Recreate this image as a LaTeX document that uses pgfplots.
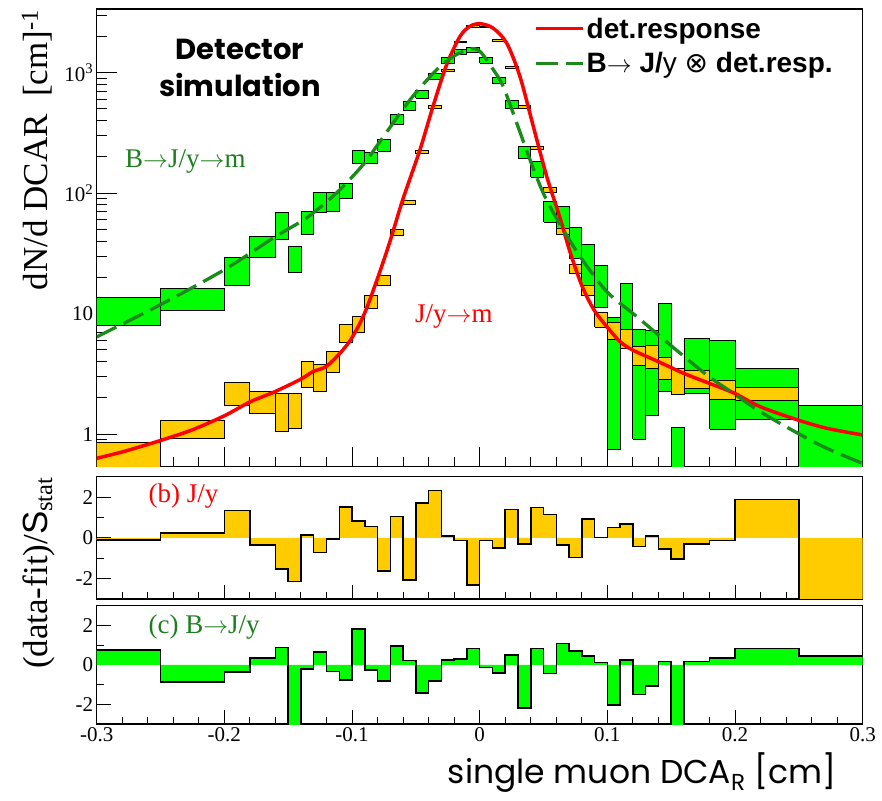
\documentclass[border=0pt]{standalone}
\usepackage{fontspec}
\setmainfont{Liberation Serif}
\setsansfont{Liberation Sans}
\newfontfamily\gothic{Poppins}
\newfontfamily\djv{DejaVu Sans}
\usepackage{pgfplots}
\pgfplotsset{compat=1.18}
\definecolor{ofill}{HTML}{FFCC00}
\definecolor{gfill}{HTML}{00FF00}
\definecolor{dgreen}{HTML}{1A8A1A}
\definecolor{tgreen}{HTML}{1E7F1E}
\newcommand{\obox}[4]{\addplot[forget plot, fill=ofill, draw=black, line width=0.9pt] coordinates {(#1,#3) (#2,#3) (#2,#4) (#1,#4) (#1,#3)};}
\newcommand{\gbox}[4]{\addplot[forget plot, fill=gfill, draw=black, line width=0.9pt] coordinates {(#1,#3) (#2,#3) (#2,#4) (#1,#4) (#1,#3)};}
\pgfplotsset{
  common/.style={scale only axis, anchor=south west, xmin=-0.3, xmax=0.3, width=766pt,
    tick align=inside, tick pos=left,
    axis line style={line width=1.2pt},
    major tick length=14pt, minor tick length=7pt,
    xtick={-0.3,-0.2,-0.1,0,0.1,0.2,0.3}, minor x tick num=4,
    tick style={line width=1pt, black},
    tick label style={font=\fontsize{21}{21}\selectfont}},
}
\begin{document}
\begin{tikzpicture}
\path[use as bounding box] (0pt,0pt) rectangle (882pt,800pt);
% ---------------- top panel
\begin{axis}[common, at={(96.7pt,333.3pt)}, height=457.7pt,
  major tick length=20pt, minor tick length=10pt,
  ymode=log, ymin=0.538, ymax=3365,
  ytick={1,10,100,1000}, yticklabels={1,10,10\textsuperscript{2},10\textsuperscript{3}},
  minor ytick={0.6,0.7,0.8,0.9,2,3,4,5,6,7,8,9,20,30,40,50,60,70,80,90,200,300,400,500,600,700,800,900,2000,3000},
  xticklabels={},
  legend style={at={(axis description cs:0.567,0.99)}, anchor=north west, draw=none, fill=none,
    font=\sffamily\bfseries\fontsize{28}{30}\selectfont, row sep=9pt},
  legend cell align=left,
  legend image code/.code={\draw[#1] (0pt,0pt) -- (47pt,0pt);},
]
% B -> J/psi boxes
\gbox{-0.30}{-0.25}{7.92}{13.6}
\gbox{-0.25}{-0.20}{10.69}{16.15}
\gbox{-0.20}{-0.18}{17.3}{29.0}
\gbox{-0.18}{-0.16}{29.0}{43.4}
\gbox{-0.16}{-0.15}{40.97}{68.6}
\gbox{-0.15}{-0.14}{22.1}{36.0}
\gbox{-0.14}{-0.13}{45.1}{69.9}
\gbox{-0.13}{-0.12}{68.6}{100.6}
\gbox{-0.12}{-0.11}{69.9}{100.6}
\gbox{-0.11}{-0.10}{89.7}{119.4}
\gbox{-0.10}{-0.09}{175.0}{224.4}
\gbox{-0.09}{-0.08}{175.0}{217.2}
\gbox{-0.08}{-0.07}{221.4}{276.9}
\gbox{-0.07}{-0.06}{373.8}{446.6}
\gbox{-0.06}{-0.05}{484.8}{572.6}
\gbox{-0.05}{-0.04}{614}{706.3}
\gbox{-0.04}{-0.03}{883}{990.6}
\gbox{-0.03}{-0.02}{1199}{1345}
\gbox{-0.02}{-0.01}{1424}{1567}
\gbox{-0.01}{0.00}{1468}{1616}
\gbox{0.00}{0.01}{1199}{1335}
\gbox{0.01}{0.02}{818}{917.8}
\gbox{0.02}{0.03}{500.9}{583.4}
\gbox{0.03}{0.04}{195.2}{243.7}
\gbox{0.04}{0.05}{135.8}{182.9}
\gbox{0.05}{0.06}{57.5}{85.2}
\gbox{0.06}{0.07}{47.7}{77.4}
\gbox{0.07}{0.08}{28.9}{51.8}
\gbox{0.08}{0.09}{17.3}{37.7}
\gbox{0.09}{0.10}{11.2}{25.1}
\gbox{0.10}{0.11}{0.741}{9.35}
\gbox{0.11}{0.12}{5.4}{17.7}
\gbox{0.12}{0.13}{0.909}{7.44}
\gbox{0.13}{0.14}{1.427}{7.24}
\gbox{0.14}{0.15}{2.26}{12.2}
\gbox{0.15}{0.16}{0.3}{1.134}
\gbox{0.16}{0.18}{2.19}{6.26}
\gbox{0.18}{0.20}{1.10}{5.98}
\gbox{0.20}{0.25}{1.314}{3.53}
\gbox{0.25}{0.30}{0.3}{1.727}
% J/psi boxes
\obox{-0.30}{-0.25}{0.45}{0.847}
\obox{-0.25}{-0.20}{0.914}{1.297}
\obox{-0.20}{-0.18}{1.727}{2.666}
\obox{-0.18}{-0.16}{1.474}{2.257}
\obox{-0.16}{-0.15}{1.045}{2.160}
\obox{-0.15}{-0.14}{1.107}{2.160}
\obox{-0.14}{-0.13}{2.436}{4.005}
\obox{-0.13}{-0.12}{2.257}{3.758}
\obox{-0.12}{-0.11}{3.245}{4.849}
\obox{-0.11}{-0.10}{5.724}{8.07}
\obox{-0.10}{-0.09}{6.97}{9.46}
\obox{-0.09}{-0.08}{11.1}{14.13}
\obox{-0.08}{-0.07}{17.1}{20.7}
\obox{-0.07}{-0.06}{44.2}{50.3}
\obox{-0.06}{-0.05}{80.0}{86.8}
\obox{-0.05}{-0.04}{213}{226}
\obox{-0.04}{-0.03}{501}{530}
\obox{-0.03}{-0.02}{1021}{1055}
\obox{-0.02}{-0.01}{1777}{1811}
\obox{-0.01}{0.00}{2386}{2445}
\obox{0.00}{0.01}{2370}{2430}
\obox{0.01}{0.02}{1825}{1871}
\obox{0.02}{0.03}{1090}{1117}
\obox{0.03}{0.04}{507}{530}
\obox{0.04}{0.05}{231.8}{243.7}
\obox{0.05}{0.06}{101.9}{111.3}
\obox{0.06}{0.07}{45.1}{51.2}
\obox{0.07}{0.08}{21.7}{25.4}
\obox{0.08}{0.09}{14.06}{17.3}
\obox{0.09}{0.10}{7.73}{10.29}
\obox{0.10}{0.11}{6.14}{8.44}
\obox{0.11}{0.12}{5.17}{7.34}
\obox{0.12}{0.13}{3.69}{5.33}
\obox{0.13}{0.14}{3.53}{5.44}
\obox{0.14}{0.15}{2.86}{4.32}
\obox{0.15}{0.16}{2.15}{3.53}
\obox{0.16}{0.18}{2.41}{3.37}
\obox{0.18}{0.20}{1.93}{2.82}
\obox{0.20}{0.25}{1.90}{2.455}
% curves
\addplot[red, line width=3.5pt, smooth] coordinates {
(-0.300,0.632) (-0.279,0.718) (-0.2504,0.885) (-0.2253,1.086) (-0.2002,1.419) (-0.1799,1.854)
(-0.1603,2.257) (-0.1402,2.86) (-0.1306,3.31) (-0.1204,3.64) (-0.1094,4.70) (-0.1003,6.26)
(-0.0904,9.96) (-0.0802,19.4) (-0.0703,39.7) (-0.0603,88.0) (-0.0468,228.7) (-0.0366,523)
(-0.0259,1161) (-0.0154,1995) (-0.0077,2415) (0.0002,2541) (0.0103,2341) (0.0211,1757)
(0.0315,928) (0.0420,357) (0.0525,137.3) (0.0629,62.4) (0.0707,32.6) (0.0801,17.0)
(0.0895,10.75) (0.0995,7.82) (0.1099,5.87) (0.1195,5.01) (0.1399,4.00) (0.1595,3.21)
(0.1796,2.65) (0.1994,2.19) (0.2196,1.694) (0.2491,1.314) (0.2718,1.121) (0.2997,0.987)};
\addlegendentry{det.response}
\addplot[dgreen, line width=3.3pt, smooth, dash pattern=on 22pt off 8pt] coordinates {
(-0.300,6.42) (-0.2504,11.83) (-0.2002,23.1) (-0.1603,43.4) (-0.1355,62.4) (-0.1120,100.6)
(-0.0914,171.8) (-0.0781,268) (-0.0546,594) (-0.0337,1055) (-0.0207,1360) (-0.0077,1567)
(0.0002,1496) (0.0107,1055) (0.0184,767) (0.0290,381) (0.0394,188.9) (0.0498,100)
(0.0613,58.9) (0.0786,29.8) (0.0995,15.26) (0.1230,9.46) (0.1492,5.51) (0.1778,3.105)
(0.1986,2.19) (0.2196,1.54) (0.2491,1.019) (0.2718,0.765) (0.2997,0.574)};
\addlegendentry{B$\rightarrow$ J/{\mdseries y} {\djv\mdseries ⊗} det.resp.}
\end{axis}
% ---------------- panel (b)
\begin{axis}[common, at={(96.7pt,201pt)}, height=122.3pt,
  ymin=-3, ymax=3, ytick={-2,0,2}, yticklabels={-2,0,2}, minor ytick={-1,1},
  xticklabels={}]
\addplot[const plot, fill=ofill, draw=none] coordinates {(-0.3,0)
(-0.30,-0.1) (-0.25,0.24) (-0.20,1.33) (-0.18,-0.35) (-0.16,-1.52) (-0.15,-2.13) (-0.14,0.14)
(-0.13,-0.72) (-0.12,-0.05) (-0.11,1.52) (-0.10,0.83) (-0.09,0.56) (-0.08,-1.62) (-0.07,1.04)
(-0.06,-2.08) (-0.05,1.71) (-0.04,2.32) (-0.03,0.08) (-0.02,-0.13) (-0.01,-2.32) (0.00,-0.13)
(0.01,-0.51) (0.02,1.39) (0.03,-0.30) (0.04,1.49) (0.05,1.15) (0.06,-0.34) (0.07,-0.96)
(0.08,0.93) (0.09,0.02) (0.10,0.50) (0.11,0.67) (0.12,-0.42) (0.13,0.08) (0.14,-0.54)
(0.15,-1.04) (0.16,-0.29) (0.18,-0.13) (0.20,1.87) (0.25,-3.5) (0.30,-3.5) (0.3,0)};
\addplot[const plot, draw=black, line width=1.5pt] coordinates {
(-0.30,-0.1) (-0.25,0.24) (-0.20,1.33) (-0.18,-0.35) (-0.16,-1.52) (-0.15,-2.13) (-0.14,0.14)
(-0.13,-0.72) (-0.12,-0.05) (-0.11,1.52) (-0.10,0.83) (-0.09,0.56) (-0.08,-1.62) (-0.07,1.04)
(-0.06,-2.08) (-0.05,1.71) (-0.04,2.32) (-0.03,0.08) (-0.02,-0.13) (-0.01,-2.32) (0.00,-0.13)
(0.01,-0.51) (0.02,1.39) (0.03,-0.30) (0.04,1.49) (0.05,1.15) (0.06,-0.34) (0.07,-0.96)
(0.08,0.93) (0.09,0.02) (0.10,0.50) (0.11,0.67) (0.12,-0.42) (0.13,0.08) (0.14,-0.54)
(0.15,-1.04) (0.16,-0.29) (0.18,-0.13) (0.20,1.87) (0.25,-3.5) (0.30,-3.5)};
\end{axis}
% ---------------- panel (c)
\begin{axis}[common, at={(96.7pt,76pt)}, height=118.3pt,
  ymin=-3, ymax=3, ytick={-2,0,2}, yticklabels={-2,0,2}, minor ytick={-1,1},
  xticklabels={-0.3,-0.2,-0.1,0,0.1,0.2,0.3}]
\addplot[const plot, fill=gfill, draw=none] coordinates {(-0.3,0)
(-0.30,0.76) (-0.25,-0.86) (-0.20,-0.35) (-0.18,0.34) (-0.16,0.87) (-0.15,-3.5) (-0.14,-0.20)
(-0.13,0.66) (-0.12,-0.34) (-0.11,-0.76) (-0.10,1.82) (-0.09,-0.25) (-0.08,-0.82) (-0.07,0.96)
(-0.06,0.22) (-0.05,-1.43) (-0.04,-0.82) (-0.03,0.25) (-0.02,0.29) (-0.01,0.82) (0.00,-0.13)
(0.01,-0.42) (0.02,0.49) (0.03,-2.2) (0.04,0.82) (0.05,-0.45) (0.06,1.08) (0.07,0.71)
(0.08,0.44) (0.09,0.12) (0.10,-2.03) (0.11,0.24) (0.12,-1.51) (0.13,-1.06) (0.14,0.18)
(0.15,-3.5) (0.16,0.18) (0.18,0.35) (0.20,0.82) (0.25,0.45) (0.30,0.45) (0.3,0)};
\addplot[const plot, draw=black, line width=1.5pt] coordinates {
(-0.30,0.76) (-0.25,-0.86) (-0.20,-0.35) (-0.18,0.34) (-0.16,0.87) (-0.15,-3.5) (-0.14,-0.20)
(-0.13,0.66) (-0.12,-0.34) (-0.11,-0.76) (-0.10,1.82) (-0.09,-0.25) (-0.08,-0.82) (-0.07,0.96)
(-0.06,0.22) (-0.05,-1.43) (-0.04,-0.82) (-0.03,0.25) (-0.02,0.29) (-0.01,0.82) (0.00,-0.13)
(0.01,-0.42) (0.02,0.49) (0.03,-2.2) (0.04,0.82) (0.05,-0.45) (0.06,1.08) (0.07,0.71)
(0.08,0.44) (0.09,0.12) (0.10,-2.03) (0.11,0.24) (0.12,-1.51) (0.13,-1.06) (0.14,0.18)
(0.15,-3.5) (0.16,0.18) (0.18,0.35) (0.20,0.82) (0.25,0.45) (0.30,0.45)};
\end{axis}
% ---------------- texts
\node[anchor=base, font=\gothic\bfseries\fontsize{29}{29}\selectfont] at (240pt,740pt) {Detector};
\node[anchor=base, font=\gothic\bfseries\fontsize{29}{29}\selectfont] at (240pt,703pt) {simulation};
\node[anchor=base west, text=tgreen, font=\fontsize{27}{27}\selectfont] at (121.7pt,632pt) {B$\rightarrow$J/y$\rightarrow$m};
\node[anchor=base west, text=red, font=\fontsize{27}{27}\selectfont] at (411.7pt,477pt) {J/y$\rightarrow$m};
\node[anchor=base west, text=red, font=\fontsize{27}{27}\selectfont] at (145pt,297pt) {(b) J/y};
\node[anchor=base west, text=tgreen, font=\fontsize{27}{27}\selectfont] at (145pt,167pt) {(c) B$\rightarrow$J/y};
\node[rotate=90, anchor=base, font=\fontsize{35}{35}\selectfont] at (47pt,650pt) {dN/d DCAR\ \ [cm]\textsuperscript{-1}};
\node[rotate=90, anchor=base, font=\fontsize{35}{35}\selectfont] at (47pt,227pt) {(data-fit)/{\sffamily S}\textsubscript{stat}};
\node[anchor=base east, font=\gothic\fontsize{33}{33}\selectfont] at (840pt,17pt) {single muon DCA\textsubscript{R} [cm]};
\end{tikzpicture}
\end{document}
